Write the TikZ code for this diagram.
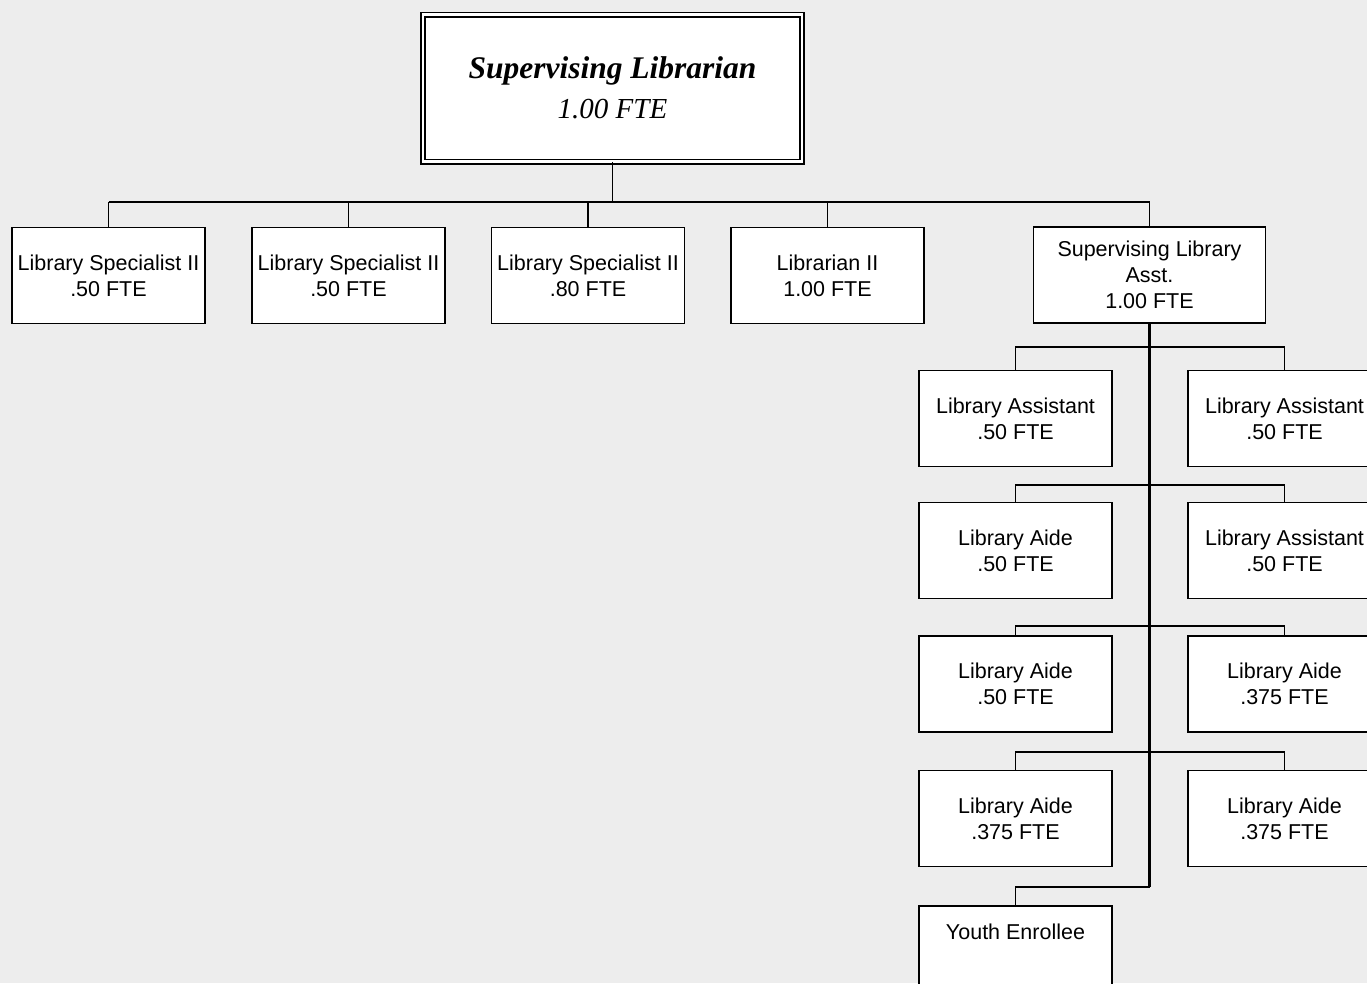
\documentclass[tikz,border=0pt]{standalone}
\usepackage{fontspec}
\setmainfont{Liberation Sans}
\newfontfamily\titlefont{Liberation Serif}
\begin{document}
\begin{tikzpicture}[
    x=1pt, y=-1pt,
    post/.style={rectangle, draw, fill=white, line width=1.4pt, minimum width=193, minimum height=96, align=center, inner sep=0pt, font=\fontsize{21.5}{26}\selectfont},
    head/.style={rectangle, draw, fill=white, line width=1.8pt, double=white, double distance=2.4pt, minimum width=379, minimum height=147, align=center, font=\titlefont\fontsize{30}{40}\selectfont\itshape},
    link/.style={line width=1.3pt},
    trunk/.style={line width=2.4pt}
]
    \useasboundingbox (0,0) rectangle (1367,983);
    \clip (0,0) rectangle (1367,983);
    \fill[black!7] (0,0) rectangle (1367,983);

    \node[head] (sup) at (612.5,88) {{\fontsize{31.5}{40}\selectfont\bfseries Supervising Librarian}\\{\fontsize{29}{40}\selectfont 1.00 FTE}};

    \node[post] (specA) at (108.5,275.5) {Library Specialist II\\.50 FTE};
    \node[post] (specB) at (348.5,275.5) {Library Specialist II\\.50 FTE};
    \node[post] (specC) at (588,275.5) {Library Specialist II\\.80 FTE};
    \node[post] (lib) at (827.5,275.5) {Librarian II\\1.00 FTE};
    \node[post, minimum width=232] (sla) at (1149.5,275) {Supervising Library\\Asst.\\1.00 FTE};

    \node[post] (asstL) at (1015.5,418.5) {Library Assistant\\.50 FTE};
    \node[post] (asstR) at (1284.5,418.5) {Library Assistant\\.50 FTE};
    \node[post] (aideA) at (1015.5,550.5) {Library Aide\\.50 FTE};
    \node[post] (asstS) at (1284.5,550.5) {Library Assistant\\.50 FTE};
    \node[post] (aideB) at (1015.5,684) {Library Aide\\.50 FTE};
    \node[post] (aideC) at (1284.5,684) {Library Aide\\.375 FTE};
    \node[post] (aideD) at (1015.5,818.5) {Library Aide\\.375 FTE};
    \node[post] (aideE) at (1284.5,818.5) {Library Aide\\.375 FTE};
    \node[post, minimum height=100] (youth) at (1015.5,956) {};
    \node[anchor=base, font=\fontsize{21.5}{26}\selectfont] (youthtxt) at ([yshift=-34pt]youth.north) {Youth Enrollee};

    \coordinate (bus0) at (612,202);
    \coordinate (bus1) at (1150,347);
    \coordinate (bus2) at (1150,485);
    \coordinate (bus3) at (1150,626);
    \coordinate (bus4) at (1150,752);
    \coordinate (bus5) at (1150,887);

    \draw[link] (sup.south) -- (sup.south |- bus0);
    \draw[link] (specA.north |- bus0) -- (sla.north |- bus0);
    \foreach \n in {specA,specB,specC,lib,sla}
        \draw[link] (\n.north |- bus0) -- (\n.north);

    \draw[trunk] (sla.south) -- (sla.south |- bus5);
    \draw[link] (asstL.north) -- (asstL.north |- bus1) -| (asstR.north);
    \draw[link] (aideA.north) -- (aideA.north |- bus2) -| (asstS.north);
    \draw[link] (aideB.north) -- (aideB.north |- bus3) -| (aideC.north);
    \draw[link] (aideD.north) -- (aideD.north |- bus4) -| (aideE.north);
    \draw[link] (youth.north) -- (youth.north |- bus5) -- (sla.south |- bus5);
\end{tikzpicture}
\end{document}
